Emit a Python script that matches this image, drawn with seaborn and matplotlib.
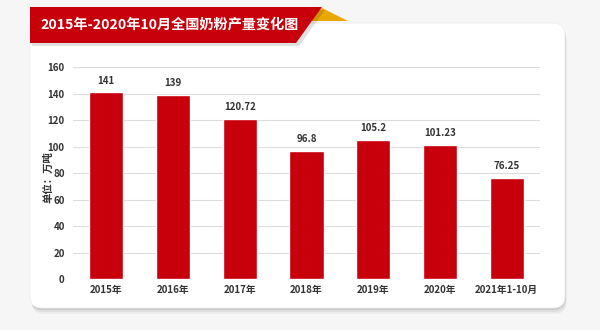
import matplotlib
matplotlib.use("Agg")
import matplotlib.pyplot as plt
from matplotlib.patches import FancyBboxPatch, Polygon
import seaborn as sns
import pandas as pd

title = "2015年-2020年10月全国奶粉产量变化图"
categories = ["2015年", "2016年", "2017年", "2018年", "2019年", "2020年", "2021年1-10月"]
output = [141, 139, 120.72, 96.8, 105.2, 101.23, 76.25]
y_ticks = [0, 20, 40, 60, 80, 100, 120, 140, 160]
unit_label = "单位：万吨"

sns.set_theme(style="white")
plt.rcParams["font.family"] = ["Noto Sans CJK SC", "DejaVu Sans"]
plt.rcParams["axes.unicode_minus"] = False

W, H = 600, 330
fig = plt.figure(figsize=(W / 100, H / 100), dpi=100)
fig.patch.set_facecolor("#f7f6f6")


def px(x, y):
    # top-left pixel coordinates -> display coordinates
    return (x, H - y)


# card shadow + white card
for off, alpha in [(6, 0.04), (4, 0.06), (2, 0.09)]:
    x0, y0 = px(30 + off * 0.3, 308 + off)
    fig.patches.append(FancyBboxPatch((x0, y0), 535, 285,
                                      boxstyle="round,pad=0,rounding_size=12",
                                      transform=None, facecolor="#000000",
                                      edgecolor="none", alpha=alpha, zorder=0))
x0, y0 = px(30, 308)
fig.patches.append(FancyBboxPatch((x0, y0), 535, 285,
                                  boxstyle="round,pad=0,rounding_size=12",
                                  transform=None, facecolor="white",
                                  edgecolor="#eeeeee", linewidth=0.6, zorder=1))

# title ribbon
fig.patches.append(Polygon([px(306, 21), px(322, 8), px(348, 21)], closed=True,
                           transform=None, facecolor="#e9a800", edgecolor="none", zorder=2))
fig.patches.append(Polygon([px(32, 10), px(325, 10), px(299, 46), px(32, 46)], closed=True,
                           transform=None, facecolor="#000000", alpha=0.12,
                           edgecolor="none", zorder=2))
fig.patches.append(Polygon([px(30, 7), px(322, 7), px(296, 43), px(30, 43)], closed=True,
                           transform=None, facecolor="#c8000b", edgecolor="none", zorder=3))
fig.text(40 / W, 1 - 25 / H, title, color="white", fontsize=10.2, fontweight="bold",
         ha="left", va="center", zorder=4)

# bar chart
ax = fig.add_axes([73 / W, 1 - 279.3 / H, (540 - 73) / W, (279.3 - 67.3) / H])
ax.set_facecolor("none")
ax.set_zorder(5)
df = pd.DataFrame({"year": categories, "value": output})
sns.barplot(data=df, x="year", y="value", color="#c8000b", saturation=1,
            width=0.51, ax=ax, zorder=3)
ax.bar_label(ax.containers[0], labels=[f"{v:g}" for v in output], padding=5,
             fontsize=7, fontweight="bold", color="#333333")

ax.set_ylim(0, 160)
ax.set_xlim(-0.5, len(categories) - 0.5)
ax.set_yticks(y_ticks)
ax.yaxis.grid(True, color="#dcdcdc", linewidth=0.8, zorder=0)
ax.set_axisbelow(True)
for s in ax.spines.values():
    s.set_visible(False)
ax.tick_params(axis="both", length=0, labelsize=7, labelcolor="#333333")
ax.tick_params(axis="y", pad=6)
ax.tick_params(axis="x", pad=4)
for lab in ax.get_xticklabels() + ax.get_yticklabels():
    lab.set_fontweight("bold")
ax.set_xlabel("")
ax.set_ylabel(unit_label, fontsize=7.5, fontweight="bold", color="#333333")
ax.yaxis.set_label_coords(-0.042, 0.48)

fig.savefig("out.png", dpi=100, facecolor=fig.get_facecolor())
